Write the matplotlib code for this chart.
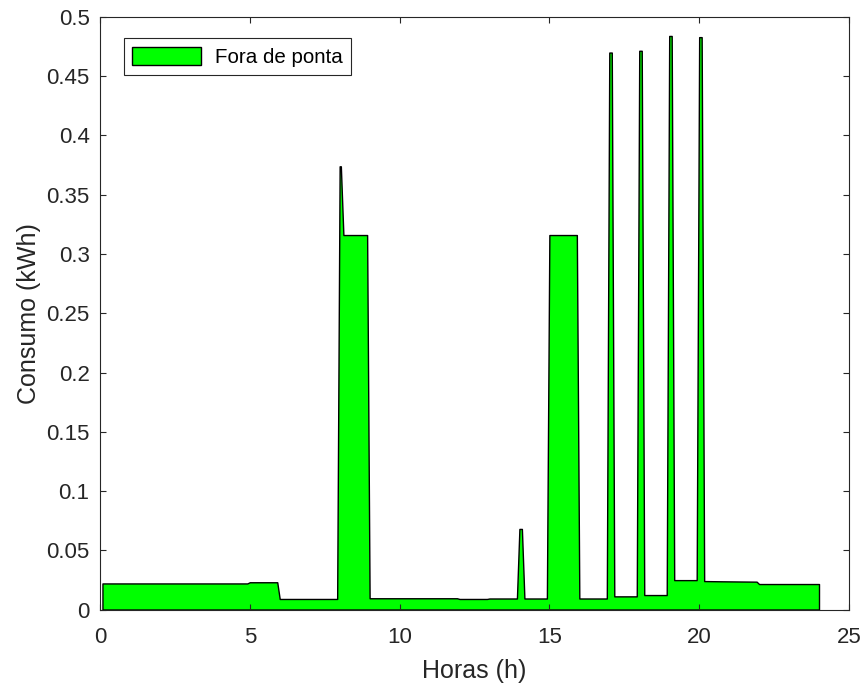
import matplotlib
matplotlib.use('Agg')
import matplotlib.pyplot as plt
from matplotlib.ticker import FuncFormatter

plt.rcParams['font.family'] = ['Liberation Sans', 'DejaVu Sans']

# consumption profile (5 minute steps, only the corners of each level kept)
hours = [0.083, 4.917, 5.0, 5.917, 6.0, 7.917, 8.0, 8.04, 8.125, 8.917,
         9.0, 11.917, 12.0, 12.917, 13.0, 13.917, 14.0, 14.083, 14.167, 14.917,
         15.0, 15.917, 16.0, 16.917, 17.0, 17.083, 17.167, 17.917, 18.0, 18.083,
         18.167, 18.917, 19.0, 19.083, 19.167, 19.917, 20.0, 20.083, 20.167, 20.75,
         21.917, 22.0, 24.0]
consumo = [0.022, 0.022, 0.023, 0.023, 0.0089, 0.0089, 0.374, 0.374, 0.316, 0.316,
           0.0095, 0.0095, 0.0089, 0.0089, 0.0093, 0.0093, 0.068, 0.068, 0.0093, 0.0093,
           0.316, 0.316, 0.0093, 0.0093, 0.470, 0.470, 0.0111, 0.0111, 0.4715, 0.4715,
           0.0122, 0.0122, 0.484, 0.484, 0.0248, 0.0248, 0.483, 0.483, 0.024, 0.0238,
           0.0235, 0.0215, 0.0215]

xticks = [0, 5, 10, 15, 20, 25]
yticks = [0, 0.05, 0.1, 0.15, 0.2, 0.25, 0.3, 0.35, 0.4, 0.45, 0.5]

fig = plt.figure(figsize=(8.64, 6.85), dpi=100)
ax = fig.add_axes([0.1157, 0.1102, 0.8669, 0.865])

ax.fill_between(hours, consumo, 0, facecolor='#00ff00', edgecolor='black',
                linewidth=1.0, label='Fora de ponta')

ax.set_xlim(0, 25)
ax.set_ylim(0, 0.5)
ax.set_xticks(xticks)
ax.set_yticks(yticks)
ax.yaxis.set_major_formatter(FuncFormatter(lambda v, p: '%g' % v))

for s in ax.spines.values():
    s.set_color('#262626')
    s.set_linewidth(0.8)
ax.tick_params(direction='in', length=4.5, width=0.8, colors='#262626',
               labelsize=16, top=True, right=True)
ax.tick_params(axis='x', pad=12.5)
ax.tick_params(axis='y', pad=7.5)

ax.set_xlabel('Horas (h)', fontsize=18, color='#262626', labelpad=8)
ax.set_ylabel('Consumo (kWh)', fontsize=18, color='#262626', labelpad=4)

leg = ax.legend(loc='upper left', bbox_to_anchor=(0.0324, 0.964), fontsize=14.8,
                fancybox=False, framealpha=1, edgecolor='#262626',
                handlelength=3.35, handleheight=1.03, handletextpad=0.65,
                borderpad=0.4, borderaxespad=0)
leg.get_frame().set_linewidth(0.8)

fig.savefig('out.png', dpi=100)
